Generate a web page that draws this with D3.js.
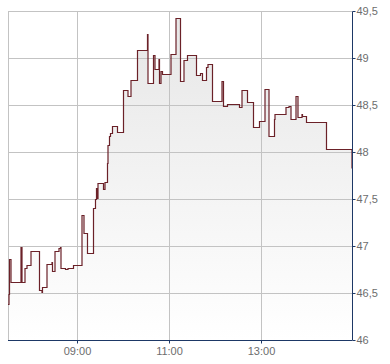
<!DOCTYPE html>
<html>
<head>
<meta charset="utf-8">
<script src="https://cdn.jsdelivr.net/npm/d3@7"></script>
<style>
  body { margin: 0; background: #fff; }
  .axis text { font-family: "Liberation Sans", Arial, sans-serif; font-size: 11px; fill: #6d6d6d; }
</style>
</head>
<body>
<div id="chart"></div>
<script>
// intraday prices, step after each trade time
var times = [
  "07:30", "07:31", "07:32", "07:34", "07:47", "07:48", "07:52", "07:55", "08:00", "08:11",
  "08:14", "08:15", "08:21", "08:27", "08:28", "08:31", "08:36", "08:38", "08:39", "08:45",
  "08:48", "08:55", "09:06", "09:09", "09:13", "09:21", "09:24", "09:25", "09:26", "09:27",
  "09:34", "09:36", "09:39", "09:40", "09:42", "09:43", "09:46", "09:52", "10:00", "10:06",
  "10:10", "10:18", "10:31", "10:32", "10:39", "10:41", "10:46", "10:47", "10:49", "10:51",
  "11:02", "11:08", "11:14", "11:19", "11:23", "11:35", "11:40", "11:43", "11:48", "11:50",
  "11:56", "12:08", "12:10", "12:15", "12:31", "12:34", "12:41", "12:49", "12:57", "13:04",
  "13:09", "13:16", "13:17", "13:31", "13:35", "13:38", "13:44", "13:47", "13:52", "13:53",
  "13:58", "14:24", "14:57"
];
var prices = [
  46.39, 46.50, 46.87, 46.62, 47.00, 46.62, 46.77, 46.80, 46.95, 46.54,
  46.52, 46.57, 46.81, 46.84, 46.74, 46.95, 46.98, 47.00, 46.77, 46.76,
  46.77, 46.80, 47.34, 47.14, 46.93, 47.41, 47.51, 47.62, 47.52, 47.68,
  47.61, 47.69, 47.89, 48.08, 48.18, 48.21, 48.28, 48.22, 48.66, 48.60,
  48.77, 49.09, 49.26, 48.74, 49.04, 48.89, 49.00, 48.74, 48.87, 48.84,
  49.05, 49.43, 48.76, 48.98, 49.04, 48.82, 48.85, 48.77, 48.91, 48.94,
  48.55, 48.76, 48.50, 48.52, 48.48, 48.67, 48.54, 48.27, 48.34, 48.68,
  48.18, 48.36, 48.41, 48.48, 48.50, 48.36, 48.60, 48.38, 48.41, 48.39,
  48.32, 48.04, 47.84
];
var timeRange = ["07:30", "14:57"];
var timeTicks = ["09:00", "11:00", "13:00"];
var priceTicks = [46, 46.5, 47, 47.5, 48, 48.5, 49, 49.5];

var width = 390;
var height = 364;
// plot box (note: "top" is reserved by window, so use plot* names)
var plotLeft = 8, plotRight = 352, plotTop = 11, plotBottom = 340;

var parseTime = d3.timeParse("%H:%M");
var data = times.map(function(t, i) { return { t: parseTime(t), p: prices[i] }; });

var de = d3.formatLocale({ decimal: ",", thousands: ".", grouping: [3], currency: ["", " €"] });
var fmtPrice = de.format("~f");

var x = d3.scaleTime()
    .domain(timeRange.map(parseTime))
    .range([plotLeft, plotRight]);
var y = d3.scaleLinear()
    .domain([46, 49.5])
    .range([plotBottom + 0.5, plotTop + 0.5]);

var svg = d3.select("#chart").append("svg")
    .attr("width", width)
    .attr("height", height);

// background gradient for the area
var grad = svg.append("defs").append("linearGradient")
    .attr("id", "fade")
    .attr("gradientUnits", "userSpaceOnUse")
    .attr("x1", 0).attr("y1", plotTop)
    .attr("x2", 0).attr("y2", plotBottom);
grad.append("stop").attr("offset", "0%").attr("stop-color", "#e6e6e6");
grad.append("stop").attr("offset", "100%").attr("stop-color", "#ffffff");

function px(d) { return Math.round(x(d.t) * 2) / 2; }
function py(d) { return Math.round(y(d.p)) + 0.5; }

// area under the price line
svg.append("path")
    .datum(data)
    .attr("fill", "url(#fade)")
    .attr("d", d3.area()
        .curve(d3.curveStepAfter)
        .x(px)
        .y0(plotBottom)
        .y1(py));

// grid
var gridG = svg.append("g").attr("class", "grid")
    .attr("stroke", "#c3c3c3")
    .attr("stroke-width", 1)
    .attr("shape-rendering", "crispEdges");

gridG.selectAll(".h")
    .data(priceTicks.filter(function(v) { return v > 46; }))
  .enter().append("line")
    .attr("class", "h")
    .attr("x1", plotLeft)
    .attr("x2", plotRight)
    .attr("y1", function(d) { return y(d); })
    .attr("y2", function(d) { return y(d); });

gridG.selectAll(".v")
    .data(timeTicks.map(parseTime))
  .enter().append("line")
    .attr("class", "v")
    .attr("x1", function(d) { return Math.floor(x(d)) + 0.5; })
    .attr("x2", function(d) { return Math.floor(x(d)) + 0.5; })
    .attr("y1", plotTop)
    .attr("y2", plotBottom);

// left border
gridG.append("line")
    .attr("x1", plotLeft + 0.5).attr("x2", plotLeft + 0.5)
    .attr("y1", plotTop).attr("y2", plotBottom);

// price line
svg.append("path")
    .datum(data)
    .attr("fill", "none")
    .attr("stroke", "#6b2128")
    .attr("stroke-width", 1.2)
    .attr("d", d3.line()
        .curve(d3.curveStepAfter)
        .x(px)
        .y(py));

// axes (offset 0: positions are already snapped to half pixels)
var xAxis = d3.axisBottom(x)
    .tickValues(timeTicks.map(parseTime))
    .tickFormat(d3.timeFormat("%H:%M"))
    .tickSize(3)
    .tickSizeOuter(0)
    .tickPadding(4)
    .offset(0);

var yAxis = d3.axisRight(y)
    .tickValues(priceTicks)
    .tickFormat(fmtPrice)
    .tickSize(3)
    .tickSizeOuter(0)
    .tickPadding(1)
    .offset(0);

var gx = svg.append("g")
    .attr("class", "axis")
    .attr("transform", "translate(0," + (plotBottom + 0.5) + ")")
    .call(xAxis);
gx.selectAll(".tick").attr("transform", function(d) {
    return "translate(" + (Math.floor(x(d)) + 0.5) + ",0)";
});

var gy = svg.append("g")
    .attr("class", "axis")
    .attr("transform", "translate(" + (plotRight + 0.5) + ",0)")
    .call(yAxis);

svg.selectAll(".axis .domain").attr("stroke", "#1d3866");
svg.selectAll(".axis .tick line").attr("stroke", "#1d3866");
svg.selectAll(".axis text").attr("fill", "#6d6d6d");
</script>
</body>
</html>
